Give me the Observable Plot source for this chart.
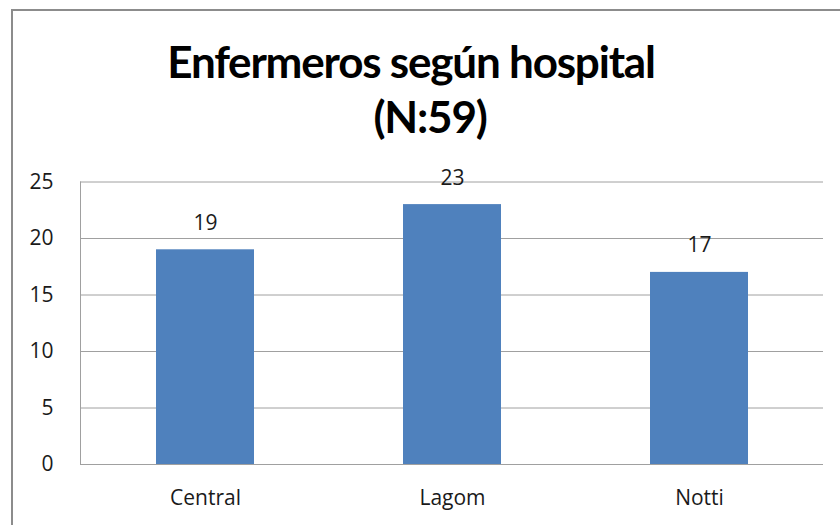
<!DOCTYPE html>
<html>
<head>
<meta charset="utf-8">
<script src="https://cdn.jsdelivr.net/npm/d3@7"></script>
<script src="https://cdn.jsdelivr.net/npm/@observablehq/plot@0.6"></script>
<style>
  html, body { margin: 0; padding: 0; background: #fff; }
  #wrap { position: relative; width: 840px; height: 525px; overflow: hidden; background: #fff; font-family: Lato, "Open Sans", sans-serif; }
  #frame { position: absolute; left: 11px; top: 9px; width: 900px; height: 600px; border-left: 2px solid #8c8c8c; border-top: 2px solid #8c8c8c; }
  .t { position: absolute; text-align: center; font-weight: bold; font-size: 44px; letter-spacing: -1.2px; line-height: 55px; color: #000; white-space: nowrap; }
  #t1 { left: 0; width: 822px; top: 34px; }
  #t2 { left: 0; width: 860px; top: 89px; }
  #chart { position: absolute; left: 0; top: 150px; }
</style>
</head>
<body>
<div id="wrap">
  <div id="frame"></div>
  <div class="t" id="t1">Enfermeros según hospital</div>
  <div class="t" id="t2">(N:59)</div>
  <div id="chart"></div>
</div>
<script>
const hospitals = ["Central", "Lagom", "Notti"];
const counts = [19, 23, 17];
const yTicks = [0, 5, 10, 15, 20, 25];

const data = hospitals.map((h, i) => ({hospital: h, count: counts[i]}));

const chart = Plot.plot({
  width: 840,
  height: 375,
  marginLeft: 80,
  marginRight: 17,
  marginTop: 31.5,
  marginBottom: 61,
  style: {fontFamily: "'Open Sans', Lato, sans-serif", fontSize: "21px", color: "#1a1a1a", background: "transparent"},
  x: {domain: hospitals, label: null, paddingInner: 0.604, paddingOuter: 0.302, tickSize: 0, tickPadding: 26},
  y: {domain: [0, 25], ticks: yTicks, label: null, tickSize: 0, tickPadding: 27, grid: false},
  marks: [
    Plot.gridY(yTicks, {stroke: "#a0a0a0", strokeOpacity: 1, strokeWidth: 1}),
    Plot.frame({anchor: "left", stroke: "#a0a0a0", strokeWidth: 1}),
    Plot.barY(data, {x: "hospital", y: "count", fill: "#4f81bd"}),
    Plot.text(data, {x: "hospital", y: "count", text: d => String(d.count), lineAnchor: "bottom", dy: -20, fontSize: 21, fill: "#1a1a1a"})
  ]
});
document.getElementById("chart").appendChild(chart);
</script>
</body>
</html>
